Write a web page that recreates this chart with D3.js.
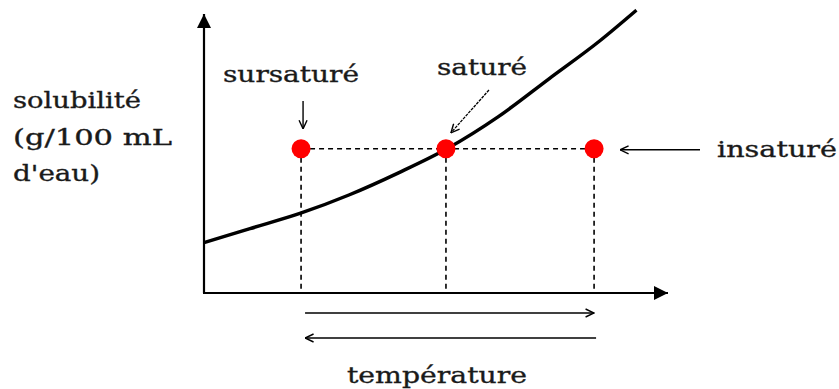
<!DOCTYPE html>
<html><head><meta charset="utf-8">
<script src="https://cdn.jsdelivr.net/npm/d3@7"></script>
<style>body{margin:0;background:#fff}svg{display:block}text{font-family:"DejaVu Serif",serif;fill:#1a1a1a;stroke:#1a1a1a;stroke-width:0.35}</style>
</head><body><svg id="c" width="839" height="389"></svg>
<script>
// Data (arbitrary units, 0-100)
const curveTemp = [0, 10, 21, 31.5, 42.4, 52.8, 64, 75, 86, 94];
const curveSol  = [18, 23, 28.5, 35, 43, 51.5, 63, 76.5, 90, 101];
const pointLabels = ["sursaturé", "saturé", "insaturé"];
const pointTemp = [21.1, 52.6, 84.8];
const pointSol = [51.5, 51.5, 51.5];
const yLabelLines = ["solubilité", "(g/100 mL", "d'eau)"];
const xLabel = "température";

const svg = d3.select("#c");
const x = d3.scaleLinear().domain([0, 100]).range([204, 664]);
const y = d3.scaleLinear().domain([0, 100]).range([293, 13]);
const FS = 23;

const defs = svg.append("defs");
defs.append("marker").attr("id","triBig").attr("viewBox","0 0 10 10").attr("refX",10).attr("refY",5)
  .attr("markerWidth",16).attr("markerHeight",14).attr("markerUnits","userSpaceOnUse").attr("orient","auto")
  .append("path").attr("d","M0,0L10,5L0,10Z").attr("fill","#000");
defs.append("marker").attr("id","chev").attr("viewBox","0 0 10 10").attr("refX",9.5).attr("refY",5)
  .attr("markerWidth",10).attr("markerHeight",10).attr("markerUnits","userSpaceOnUse").attr("orient","auto")
  .append("path").attr("d","M1,1L9.5,5L1,9").attr("fill","none").attr("stroke","#000").attr("stroke-width",1.4);

// Axes
svg.append("line").attr("x1",x(0)).attr("y1",y(0)).attr("x2",x(0)).attr("y2",y(100)+1)
  .attr("stroke","#000").attr("stroke-width",2.2).attr("marker-end","url(#triBig)");
svg.append("line").attr("x1",x(0)-1).attr("y1",y(0)).attr("x2",x(100)+4).attr("y2",y(0))
  .attr("stroke","#000").attr("stroke-width",2.2).attr("marker-end","url(#triBig)");

// Dashed guides
const dash = "5,4";
svg.append("line").attr("x1",x(pointTemp[0])).attr("x2",x(pointTemp[2])).attr("y1",y(pointSol[0])).attr("y2",y(pointSol[0]))
  .attr("stroke","#000").attr("stroke-width",1.4).attr("stroke-dasharray",dash);
svg.selectAll(".vd").data(pointTemp).join("line").attr("class","vd")
  .attr("x1",d=>x(d)).attr("x2",d=>x(d)).attr("y1",(d,i)=>y(pointSol[i])).attr("y2",y(0))
  .attr("stroke","#000").attr("stroke-width",1.6).attr("stroke-dasharray",dash);

// Curve
const pts = curveTemp.map((t,i)=>[t,curveSol[i]]);
svg.append("path").datum(pts).attr("fill","none").attr("stroke","#000").attr("stroke-width",3.5)
  .attr("d", d3.line().x(d=>x(d[0])).y(d=>y(d[1])).curve(d3.curveMonotoneX));

// Points
svg.selectAll(".pt").data(pointTemp).join("circle").attr("class","pt")
  .attr("cx",d=>x(d)).attr("cy",(d,i)=>y(pointSol[i])).attr("r",9.5).attr("fill","#ff0000");

function label(txt, xx, yy, w, anchor) {
  return svg.append("text").attr("x",xx).attr("y",yy).attr("text-anchor",anchor||"start")
    .attr("font-size",FS).attr("textLength",w).attr("lengthAdjust","spacingAndGlyphs").text(txt);
}

// Labels and pointer arrows
const p0 = [x(pointTemp[0]), y(pointSol[0])];
const p1 = [x(pointTemp[1]), y(pointSol[1])];
const p2 = [x(pointTemp[2]), y(pointSol[2])];
label(pointLabels[0], 223, 82, 136);
svg.append("line").attr("x1",p0[0]+2).attr("y1",101).attr("x2",p0[0]+2).attr("y2",p0[1]-20)
  .attr("stroke","#000").attr("stroke-width",1.4).attr("marker-end","url(#chev)");
label(pointLabels[1], 437, 75, 90);
svg.append("line").attr("x1",p1[0]+43).attr("y1",90).attr("x2",p1[0]+5).attr("y2",p1[1]-16)
  .attr("stroke","#000").attr("stroke-width",1.3).attr("stroke-dasharray","3,1").attr("marker-end","url(#chev)");
label(pointLabels[2], 717, 157, 120);
svg.append("line").attr("x1",700).attr("y1",p2[1]+1).attr("x2",p2[0]+26).attr("y2",p2[1]+1)
  .attr("stroke","#000").attr("stroke-width",1.4).attr("marker-end","url(#chev)");

// Y label
const yW = [128, 159, 87];
yLabelLines.forEach((t,i)=>label(t, 13, 108+i*36.5, yW[i]));

// Temperature arrows
svg.append("line").attr("x1",x(pointTemp[0])+4).attr("x2",x(pointTemp[2])).attr("y1",313).attr("y2",313)
  .attr("stroke","#000").attr("stroke-width",1.5).attr("marker-end","url(#chev)");
svg.append("line").attr("x1",x(pointTemp[2])+2).attr("x2",x(pointTemp[0])+4).attr("y1",338).attr("y2",338)
  .attr("stroke","#000").attr("stroke-width",1.5).attr("marker-end","url(#chev)");
label(xLabel, 347, 383, 180);
</script></body></html>
